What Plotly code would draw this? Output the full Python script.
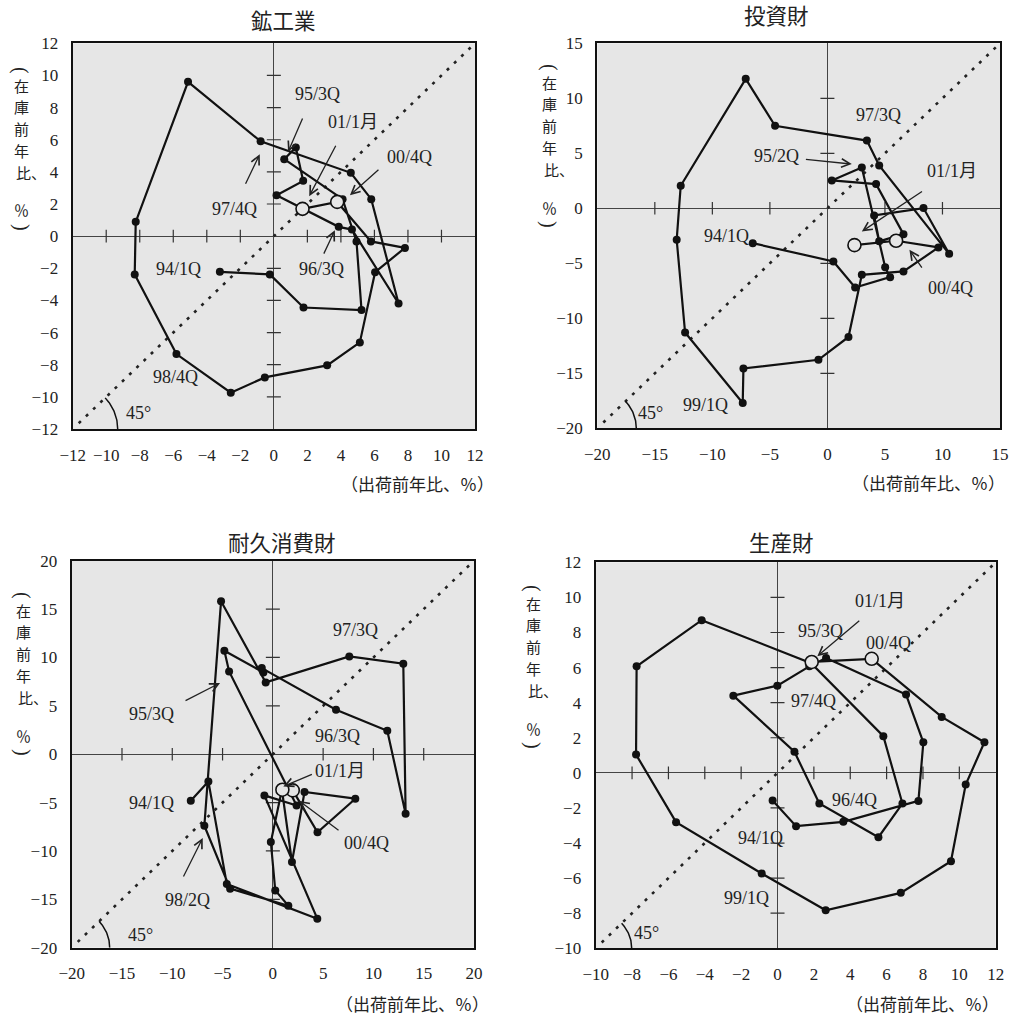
import numpy as np
import plotly.graph_objects as go

FONT = "Liberation Serif, Noto Sans CJK JP, serif"
CJK = "Noto Sans CJK JP, Liberation Serif"

periods = ["94/1Q", "94/2Q", "94/3Q", "94/4Q", "95/1Q", "95/2Q", "95/3Q", "95/4Q",
           "96/1Q", "96/2Q", "96/3Q", "96/4Q", "97/1Q", "97/2Q", "97/3Q", "97/4Q",
           "98/1Q", "98/2Q", "98/3Q", "98/4Q", "99/1Q", "99/2Q", "99/3Q", "99/4Q",
           "00/1Q", "00/2Q", "00/3Q", "00/4Q", "01/1月"]

# 鉱工業 (shipments yoy %, inventory yoy %)
mm_ship = [-3.22, -0.24, 1.77, 5.23, 4.93, 4.10, 0.62, 1.31, 1.75, 0.16, 3.87, 4.66, 7.44, 5.81,
           4.59, -0.79, -5.12, -8.24, -8.30, -5.81, -2.57, -0.54, 3.18, 5.13, 6.04, 7.82, 5.79, 3.78, 1.71]
mm_inv = [-2.22, -2.38, -4.44, -4.60, -0.33, 2.30, 4.79, 5.52, 3.44, 2.55, 0.58, 0.41, -4.19, 2.30,
          3.94, 5.90, 9.60, 0.89, -2.38, -7.34, -9.74, -8.79, -8.04, -6.61, -2.24, -0.73, -0.33, 2.13, 1.70]

# 投資財
cap_ship = [-6.49, 0.52, 2.41, 5.45, 5.02, 2.99, 0.38, 4.23, 6.61, 4.50, 4.06, 8.35, 10.58, 4.50,
            3.43, -4.55, -7.10, -12.75, -13.10, -12.37, -7.36, -7.30, -0.78, 1.83, 2.99, 6.61, 9.65, 5.97, 2.35]
cap_inv = [-3.17, -4.83, -7.20, -6.26, -5.35, 3.71, 2.53, 2.20, -2.35, -3.00, -0.65, 0.02, -4.14, 3.90,
           6.16, 7.50, 11.77, 2.05, -2.86, -11.29, -17.70, -14.56, -13.77, -11.70, -6.05, -5.74, -3.56, -2.95, -3.35]

# 耐久消費財
dur_ship = [-8.16, -6.41, -4.58, 4.42, -0.84, 2.36, -4.35, -4.82, -0.94, -1.10, 6.28, 11.38, 13.20, 12.97,
            7.60, -0.71, -5.15, -6.81, -4.25, 1.54, 0.24, -0.20, 0.90, 1.90, 3.15, 8.20, 4.44, 1.98, 0.95]
dur_inv = [-4.81, -2.81, -13.42, -17.00, -4.26, -5.30, 8.56, 10.70, 8.45, 8.90, 4.60, 2.43, -6.15, 9.35,
           10.10, 7.42, 15.80, -7.39, -13.90, -15.66, -14.08, -9.08, -3.67, -11.14, -3.91, -4.60, -8.08, -3.74, -3.67]

# 生産財
pro_ship = [-0.27, 1.02, 3.62, 7.75, 8.02, 7.07, 2.67, 1.75, -0.01, -2.43, 0.93, 2.30, 5.55, 6.87,
            5.82, 1.85, -4.17, -7.75, -7.78, -5.58, -0.87, 2.65, 6.78, 9.54, 10.35, 11.38, 9.03, 5.18, 1.88]
pro_inv = [-1.58, -3.04, -2.79, -1.60, 1.74, 4.46, 6.55, 6.07, 4.97, 4.40, 1.20, -1.75, -3.67, -1.75,
           2.09, 6.25, 8.70, 6.07, 1.04, -2.81, -5.74, -7.83, -6.84, -5.04, -0.67, 1.74, 3.19, 6.50, 6.32]

panel_titles = ["鉱工業", "投資財", "耐久消費財", "生産財"]
x_ranges = [(-12, 12), (-20, 15), (-20, 20), (-10, 12)]
y_ranges = [(-12, 12), (-20, 15), (-20, 20), (-10, 12)]
x_ticks = [list(range(-12, 13, 2)), list(range(-20, 16, 5)), list(range(-20, 21, 5)), list(range(-10, 13, 2))]
y_ticks = [list(range(-12, 13, 2)), list(range(-20, 16, 5)), list(range(-20, 21, 5)), list(range(-10, 13, 2))]

# ---- layout geometry (pixels) ----
W, H = 1012, 1015
boxes = [(72.7, 475.0, 43.3, 429.0), (597.3, 1000.0, 43.3, 428.3),
         (71.7, 474.0, 560.7, 947.7), (595.7, 995.7, 562.3, 948.3)]
arc_r = [45, 39, 38, 36]

# label annotations: (text, text_x, text_y, arrow_tail, arrow_head)
labels = [
    [("95/3Q", 2.61, 8.83, (1.75, 7.42), (0.85, 5.24)),
     ("01/1月", 4.73, 7.11, (3.74, 5.72), (2.11, 2.49)),
     ("00/4Q", 8.12, 4.93, (6.33, 4.21), (4.54, 2.55)),
     ("97/4Q", -2.33, 1.68, (-1.73, 3.17), (-0.84, 5.1)),
     ("96/3Q", 2.85, -2.07, (2.94, -1.18), (3.64, 0.37)),
     ("94/1Q", -5.67, -2.07, None, None),
     ("98/4Q", -5.87, -8.75, None, None)],
    [("97/3Q", 4.44, 8.5, None, None),
     ("95/2Q", -4.4, 4.71, (-2.0, 4.47), (2.12, 4.02)),
     ("01/1月", 10.82, 3.35, (8.35, 1.62), (2.99, -2.11)),
     ("00/4Q", 10.67, -7.25, (8.3, -5.53), (7.13, -3.77)),
     ("94/1Q", -8.75, -2.5, None, None),
     ("99/1Q", -10.63, -17.86, None, None)],
    [("97/3Q", 8.24, 12.87, None, None),
     ("95/3Q", -12.04, 4.19, (-8.83, 5.46), (-5.25, 7.36)),
     ("96/3Q", 6.41, 1.84, None, None),
     ("01/1月", 6.68, -1.78, (4.03, -2.02), (1.04, -3.33)),
     ("94/1Q", -12.04, -5.04, None, None),
     ("00/4Q", 9.33, -9.18, (6.68, -7.98), (2.6, -4.8)),
     ("98/2Q", -8.5, -15.04, (-8.96, -12.8), (-6.97, -8.66))],
    [("01/1月", 5.64, 9.78, (4.58, 8.74), (2.19, 6.65)),
     ("95/3Q", 2.34, 8.07, None, None),
     ("00/4Q", 6.1, 7.41, None, None),
     ("97/4Q", 1.97, 4.08, None, None),
     ("96/4Q", 4.21, -1.52, None, None),
     ("94/1Q", -0.96, -3.7, None, None),
     ("99/1Q", -1.69, -7.12, None, None)],
]
deg_pos = [(-8.1, -11.03), (-15.42, -18.62), (-13.2, -18.66), (-7.19, -9.12)]

title_pos = [(283.3, 20), (776.7, 15), (281.7, 541.7), (781.7, 541.7)]
xtitle_pos = [(496, 483), (1007, 482), (491, 1003), (1001, 1003)]
ytitle_x = [21, 549, 23, 533]
ytitle_top = [85, 82, 610, 603]          # centre of the first character (在)
YT_SIZE = 15
YT_STEP = 21.8
# (text, vertical offset px, rotation, left-anchored)
ytitle_parts = [("(", -15, 90, False), ("在", 0, 0, False), ("庫", YT_STEP, 0, False),
                ("前", 2 * YT_STEP, 0, False), ("年", 3 * YT_STEP, 0, False),
                ("比、", 4 * YT_STEP, 0, True), ("％", 125, 0, False), (")", 142, 90, False)]

series = [(mm_ship, mm_inv), (cap_ship, cap_inv), (dur_ship, dur_inv), (pro_ship, pro_inv)]

fig = go.Figure()
annotations = []
BG = "#e6e6e6"
TXT = "#222"

for i, (xs, ys) in enumerate(series):
    n = "" if i == 0 else str(i + 1)
    xa, ya = "x" + n, "y" + n
    x0, x1, y0, y1 = boxes[i]
    xr, yr = x_ranges[i], y_ranges[i]
    pxx = (x1 - x0) / (xr[1] - xr[0])
    pxy = (y1 - y0) / (yr[1] - yr[0])

    # 45 degree dotted line
    lo = max(xr[0], yr[0]) + 6 / pxx
    hi = min(xr[1], yr[1]) - 3 / pxx
    fig.add_trace(go.Scatter(x=[lo, hi], y=[lo, hi], mode="lines", xaxis=xa, yaxis=ya,
                             line=dict(color="#222", width=2.6, dash="3px,7px"), hoverinfo="skip"))
    # 45 degree arc
    ang = np.linspace(0, np.arctan2(pxy, pxx), 30)
    r = arc_r[i]
    fig.add_trace(go.Scatter(x=xr[0] + r * np.cos(ang) / pxx, y=yr[0] + r * np.sin(ang) / pxy,
                             mode="lines", xaxis=xa, yaxis=ya,
                             line=dict(color="#111", width=1.5), hoverinfo="skip"))
    # tick crosses on the zero axes
    xt = [t for t in x_ticks[i] if t not in (0, xr[0], xr[1])]
    yt = [t for t in y_ticks[i] if t not in (0, yr[0], yr[1])]
    fig.add_trace(go.Scatter(x=xt, y=[0] * len(xt), mode="markers", xaxis=xa, yaxis=ya,
                             marker=dict(symbol="line-ns", size=9, line=dict(color="#333", width=1.2)),
                             hoverinfo="skip"))
    fig.add_trace(go.Scatter(x=[0] * len(yt), y=yt, mode="markers", xaxis=xa, yaxis=ya,
                             marker=dict(symbol="line-ew", size=10, line=dict(color="#333", width=1.2)),
                             hoverinfo="skip"))
    # path
    fig.add_trace(go.Scatter(x=xs, y=ys, mode="lines", xaxis=xa, yaxis=ya,
                             line=dict(color="#111", width=2.2), hoverinfo="skip"))
    fig.add_trace(go.Scatter(x=xs[:-2], y=ys[:-2], mode="markers", xaxis=xa, yaxis=ya,
                             marker=dict(color="#111", size=8), text=periods[:-2]))
    fig.add_trace(go.Scatter(x=xs[-2:], y=ys[-2:], mode="markers", xaxis=xa, yaxis=ya,
                             marker=dict(color=BG, size=13, line=dict(color="#111", width=1.6)),
                             text=periods[-2:]))

    axis_common = dict(showgrid=False, zeroline=True, zerolinecolor="#444", zerolinewidth=1.2,
                       showline=True, mirror=True, linecolor="#111", linewidth=2.2,
                       ticks="outside", tickcolor="rgba(0,0,0,0)", automargin=False,
                       tickfont=dict(family=FONT, size=17, color=TXT), fixedrange=True)
    fig.update_layout(**{
        "xaxis" + n: dict(domain=[x0 / W, x1 / W], range=list(xr), tickvals=x_ticks[i],
                          anchor=ya, ticklen=9, **axis_common),
        "yaxis" + n: dict(domain=[1 - y1 / H, 1 - y0 / H], range=list(yr), tickvals=y_ticks[i],
                          anchor=xa, ticklen=9, **axis_common),
    })

    for (txt, tx, ty, tail, head) in labels[i]:
        annotations.append(dict(x=tx, y=ty, xref=xa, yref=ya, text=txt, showarrow=False,
                                xanchor="center", yanchor="middle",
                                font=dict(family=FONT, size=18, color=TXT)))
        if tail is not None:
            annotations.append(dict(x=head[0], y=head[1], ax=tail[0], ay=tail[1],
                                    xref=xa, yref=ya, axref=xa, ayref=ya, text="",
                                    showarrow=True, arrowhead=5, arrowsize=1.3,
                                    arrowwidth=1.3, arrowcolor="#222"))
    annotations.append(dict(x=deg_pos[i][0], y=deg_pos[i][1], xref=xa, yref=ya, text="45°",
                            xanchor="center", yanchor="middle", showarrow=False,
                            font=dict(family=FONT, size=18, color=TXT)))
    tx, ty = title_pos[i]
    annotations.append(dict(x=tx / W, y=1 - ty / H, xref="paper", yref="paper", text=panel_titles[i],
                            xanchor="center", yanchor="middle", showarrow=False,
                            font=dict(family=CJK, size=21.5, color=TXT)))
    tx, ty = xtitle_pos[i]
    annotations.append(dict(x=tx / W, y=1 - ty / H, xref="paper", yref="paper",
                            text="（出荷前年比、％）", xanchor="right", yanchor="middle",
                            showarrow=False, font=dict(family=CJK, size=17, color=TXT)))
    # vertical y-axis title, one glyph per annotation
    for txt, off, rot, left in ytitle_parts:
        cx = ytitle_x[i] - (YT_SIZE / 2 if left else 0)
        fam, size = (FONT, 20) if rot else (CJK, YT_SIZE)
        annotations.append(dict(x=cx / W, y=1 - (ytitle_top[i] + off) / H,
                                xref="paper", yref="paper", text=txt, showarrow=False,
                                xanchor="left" if left else "center", yanchor="middle",
                                textangle=rot, font=dict(family=fam, size=size, color=TXT)))

fig.update_layout(width=W, height=H, margin=dict(l=0, r=0, t=0, b=0, autoexpand=False),
                  paper_bgcolor="white", plot_bgcolor=BG, showlegend=False,
                  annotations=annotations)

fig.write_html("out.html", config={"displayModeBar": False},
               post_script="document.body.style.margin='0px';")
